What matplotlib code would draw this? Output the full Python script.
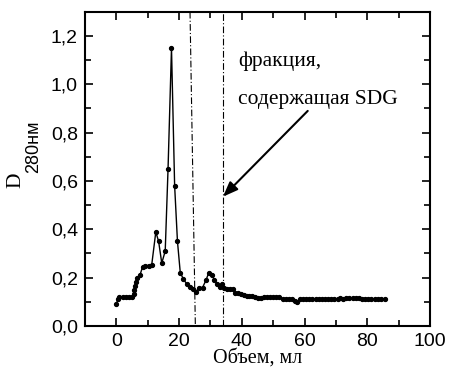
import matplotlib
matplotlib.use("Agg")
import matplotlib.pyplot as plt
from matplotlib.ticker import MultipleLocator, FuncFormatter

# ------------ data ------------ #
volume = [0, 0.5, 1, 2, 3, 4, 5, 5.5, 5.8, 6.0, 6.3, 6.7, 7.6, 8.4, 9.3, 10.3, 11.3,
          12.6, 13.5, 14.5, 15.6, 16.5, 17.6, 18.6, 19.5, 20.4, 21.4, 22.5, 23.6,
          24.4, 25.3, 26.3, 27.5, 28.6, 29.5, 30.4, 31.3, 32.1, 32.9, 33.6, 34.4,
          35.3, 36.2, 37.1, 37.9, 38.8, 39.7, 40.6, 41.5, 42.4, 43.3, 44.2, 45.1,
          46, 47, 48, 49, 50, 51, 52, 53, 54, 55, 56, 57, 57.6, 58.5, 59.5, 60.5,
          61.5, 62.5, 63.5, 64.5, 65.5, 66.5, 67.5, 68.5, 69.5, 70.5, 71.3, 72.3,
          73.3, 74.3, 75.3, 76.3, 77.3, 78.3, 79.3, 80.3, 81.3, 82.3, 83.3, 84.3,
          85.7]
absorb = [0.09, 0.11, 0.118, 0.12, 0.118, 0.118, 0.12, 0.133, 0.15, 0.166, 0.184,
          0.20, 0.212, 0.246, 0.25, 0.25, 0.253,
          0.389, 0.35, 0.26, 0.31, 0.65, 1.15, 0.58, 0.35, 0.22, 0.194, 0.173, 0.163,
          0.152, 0.14, 0.159, 0.159, 0.19, 0.221, 0.212, 0.191, 0.174, 0.163, 0.174,
          0.156, 0.155, 0.155, 0.154, 0.137, 0.135, 0.133, 0.128, 0.122, 0.122,
          0.122, 0.12, 0.115, 0.115, 0.119, 0.118, 0.118, 0.118, 0.118, 0.118,
          0.112, 0.112, 0.112, 0.111, 0.104, 0.100, 0.111, 0.111, 0.111, 0.111,
          0.111, 0.111, 0.111, 0.111, 0.111, 0.111, 0.111, 0.111, 0.111, 0.117,
          0.113, 0.116, 0.116, 0.116, 0.116, 0.116, 0.112, 0.112, 0.112, 0.112,
          0.112, 0.112, 0.112, 0.112]

# fraction boundaries (first one drawn slightly slanted, as in the source)
bound1_x = [23.5, 25.2]
bound1_y = [1.3, 0.0]
bound2_x = 33.9

label1 = "фракция,"
label2 = "содержащая SDG"
arrow_tail = (61.0, 0.89)
arrow_head = (34.0, 0.535)

# ------------ plot ------------ #
fig = plt.figure(figsize=(4.49, 3.70), dpi=100)
ax = fig.add_axes([0.189, 0.119, 0.769, 0.849])

ax.plot(volume, absorb, "-o", color="black", lw=1.0, ms=2.8)
ax.plot(bound1_x, bound1_y, color="black", lw=0.8, ls=(0, (6, 2, 1, 2)))
ax.axvline(bound2_x, color="black", lw=0.8, ls=(0, (6, 2, 1, 2)))

ax.text(38.9, 1.096, label1, family="Liberation Serif", fontsize=15.5, va="center")
ax.text(38.9, 0.939, label2, family="Liberation Serif", fontsize=15.5, va="center")
ax.annotate("", xy=arrow_head, xytext=arrow_tail,
            arrowprops=dict(arrowstyle="-|>,head_length=0.9,head_width=0.35",
                            color="black", lw=1.5, shrinkA=0, shrinkB=0))

ax.set_xlim(-10, 100)
ax.set_ylim(0, 1.3)
ax.xaxis.set_major_locator(MultipleLocator(20))
ax.xaxis.set_minor_locator(MultipleLocator(10))
ax.yaxis.set_major_locator(MultipleLocator(0.2))
ax.yaxis.set_minor_locator(MultipleLocator(0.1))
ax.yaxis.set_major_formatter(FuncFormatter(lambda v, p: ("%.1f" % v).replace(".", ",")))

ax.tick_params(which="both", direction="in", top=True, right=True, width=1.2)
ax.tick_params(which="major", length=6)
ax.tick_params(which="minor", length=4.5)
ax.tick_params(axis="x", pad=5)
ax.tick_params(axis="y", pad=5)
for lab in ax.get_xticklabels() + ax.get_yticklabels():
    lab.set_family("Liberation Sans")
    lab.set_fontsize(14)
for s in ax.spines.values():
    s.set_linewidth(1.5)

ax.set_xlabel("Объем, мл", family="Liberation Serif", fontsize=14.5, labelpad=-1)
fig.text(0.036, 0.514, "D", family="Liberation Serif", fontsize=15.5,
         rotation=90, ha="center", va="center")
fig.text(0.076, 0.603, "280нм", family="Liberation Sans", fontsize=13,
         rotation=90, ha="center", va="center")

fig.savefig("out.png", dpi=100)
